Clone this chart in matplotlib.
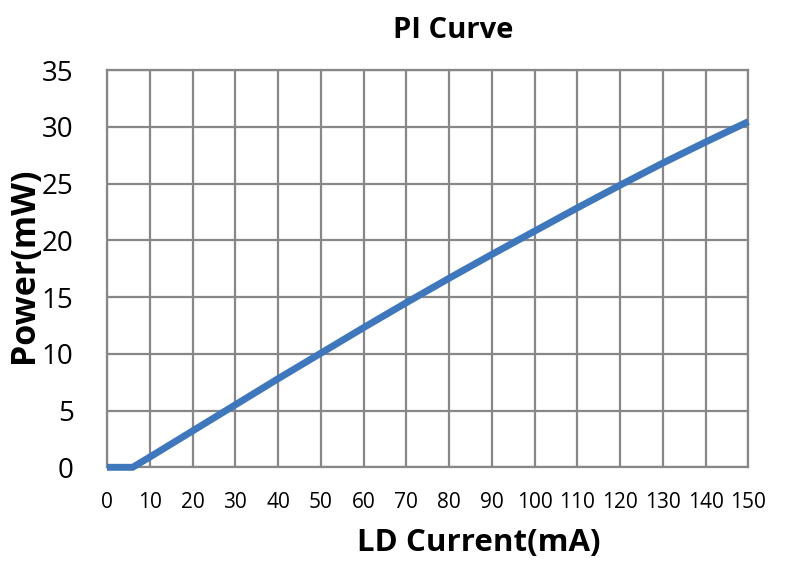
import matplotlib
matplotlib.use("Agg")
import matplotlib.pyplot as plt

current_ma = [0, 6, 10, 20, 30, 40, 50, 60, 70, 80, 90, 100, 110, 120, 130, 140, 150]
power_mw = [0, 0, 0.9, 3.2, 5.5, 7.8, 10.05, 12.3, 14.5, 16.65, 18.75, 20.8, 22.85, 24.85, 26.8, 28.65, 30.45]
x_ticks = list(range(0, 151, 10))
y_ticks = list(range(0, 36, 5))

title = "PI Curve"
x_label = "LD Current(mA)"
y_label = "Power(mW)"

plt.rcParams['font.family'] = ['Open Sans', 'DejaVu Sans']

fig = plt.figure(figsize=(8, 5.63), dpi=100)
ax = fig.add_axes([107/800, 1-467.3/563, (748.3-107)/800, (467.3-70)/563])

grid_c = "#878787"
ax.plot(current_ma, power_mw, color="#3f77bc", lw=5, solid_capstyle="butt", solid_joinstyle="round", zorder=3, clip_on=False)
ax.set_xlim(0, 150)
ax.set_ylim(0, 35)
ax.set_xticks(x_ticks)
ax.set_yticks(y_ticks)
ax.grid(True, color=grid_c, lw=1.6)
ax.set_axisbelow(True)
for s in ax.spines.values():
    s.set_color(grid_c)
    s.set_linewidth(1.6)
ax.tick_params(axis="both", length=0)
ax.tick_params(axis="x", labelsize=15, pad=18)
ax.tick_params(axis="y", labelsize=20, pad=24)

fig.text(453/800, 1-30/563, title, ha="center", va="center", fontsize=21, fontweight="bold")
fig.text(479/800, 1-543/563, x_label, ha="center", va="center", fontsize=22.5, fontweight="bold")
fig.text(24/800, 1-265/563, y_label, ha="center", va="center", fontsize=24.5, fontweight="bold", rotation=90)

fig.savefig("out.png", dpi=100)
